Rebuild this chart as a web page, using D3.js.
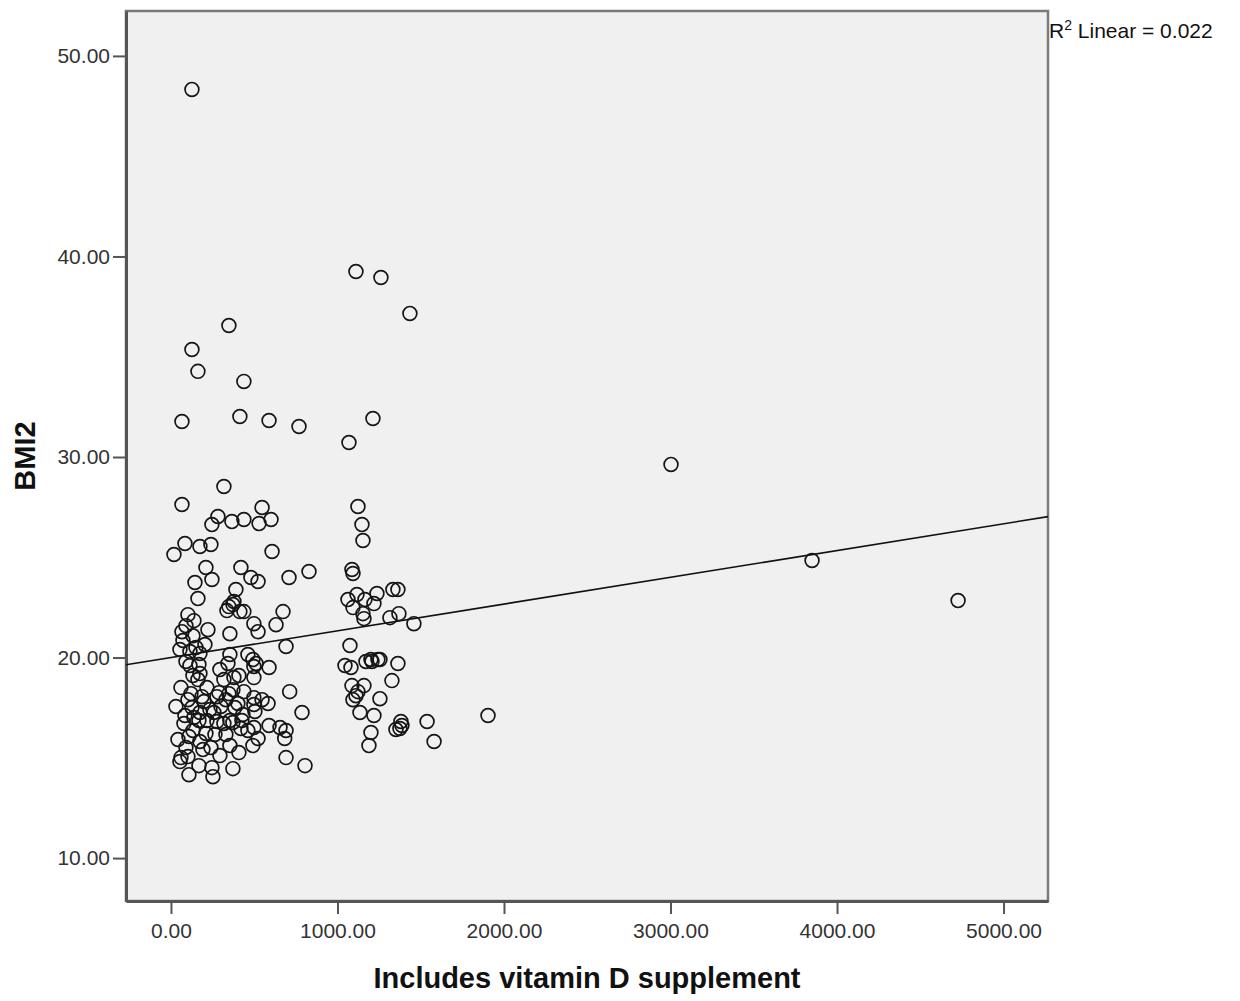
<!DOCTYPE html>
<html>
<head>
<meta charset="utf-8">
<script src="https://cdn.jsdelivr.net/npm/d3@7"></script>
<style>
    body { margin: 0; background: #fff; }
    svg { display: block; font-family: "Liberation Sans", Arial, sans-serif; }
</style>
</head>
<body>
<svg id="chart" width="1240" height="1001"></svg>
<script>
'use strict';

// vitamin D intake (incl. supplement)
var vitaminD = [
    126, 1111, 1261, 1435, 348, 126, 162, 438, 414, 66,
    589, 769, 1213, 1069, 3003, 318, 66, 1123, 547, 366,
    529, 601, 438, 282, 246, 1147, 240, 84, 174, 1153,
    18, 607, 829, 420, 210, 1087, 1093, 709, 246, 480,
    523, 144, 390, 1333, 1363, 1117, 1237, 1165, 1063, 162,
    378, 348, 336, 1219, 372, 1093, 1153, 102, 1369, 673,
    1315, 1159, 1459, 498, 631, 138, 90, 523, 354, 222,
    66, 132, 1075, 691, 72, 204, 150, 174, 462, 492,
    114, 54, 342, 511, 589, 1045, 1081, 1207, 1243, 1255,
    1363, 1171, 114, 168, 294, 174, 132, 318, 378, 498,
    1327, 1159, 60, 216, 713, 438, 348, 1123, 1111, 186,
    276, 1255, 1093, 547, 498, 402, 583, 30, 384, 787,
    1904, 1135, 1219, 126, 174, 258, 504, 84, 138, 168,
    216, 276, 318, 372, 426, 354, 78, 1538, 1381, 1387,
    1375, 589, 655, 691, 1201, 132, 210, 264, 330, 420,
    42, 108, 523, 683, 1580, 174, 354, 492, 1189, 90,
    240, 192, 408, 294, 60, 54, 691, 805, 168, 372,
    246, 108, 252, 462, 498, 414, 438, 162, 198, 300,
    120, 1351, 408, 372, 90, 498, 432, 330, 1087, 1201,
    102, 234, 102, 354, 498, 288,
    3850, 4727
];

var bmi2 = [
    48.33, 39.25, 38.95, 37.16, 36.56, 35.36, 34.27, 33.77, 32.02, 31.77,
    31.82, 31.52, 31.92, 30.72, 29.63, 28.53, 27.63, 27.53, 27.48, 26.78,
    26.68, 26.88, 26.88, 27.03, 26.63, 26.63, 25.64, 25.69, 25.54, 25.84,
    25.14, 25.29, 24.29, 24.49, 24.49, 24.39, 24.19, 23.99, 23.89, 23.99,
    23.79, 23.74, 23.39, 23.39, 23.39, 23.14, 23.19, 22.89, 22.89, 22.94,
    22.79, 22.54, 22.34, 22.69, 22.64, 22.49, 22.19, 22.14, 22.19, 22.29,
    21.99, 21.94, 21.69, 21.69, 21.64, 21.84, 21.59, 21.29, 21.19, 21.39,
    21.29, 21.09, 20.60, 20.55, 20.85, 20.65, 20.50, 20.20, 20.15, 19.90,
    20.30, 20.40, 19.70, 19.70, 19.50, 19.60, 19.50, 19.80, 19.90, 19.90,
    19.70, 19.80, 19.60, 19.65, 19.40, 19.20, 19.10, 18.90, 19.00, 19.00,
    18.85, 18.60, 18.50, 18.50, 18.30, 18.30, 18.20, 18.30, 18.10, 18.05,
    18.05, 17.95, 17.90, 17.90, 17.66, 17.71, 17.71, 17.56, 17.51, 17.26,
    17.11, 17.26, 17.11, 17.51, 17.26, 17.26, 17.31, 17.11, 17.01, 16.86,
    16.86, 16.81, 16.71, 16.76, 16.86, 16.86, 16.71, 16.81, 16.81, 16.61,
    16.46, 16.61, 16.51, 16.36, 16.26, 16.36, 16.21, 16.16, 16.16, 16.46,
    15.91, 16.06, 15.96, 15.96, 15.81, 15.81, 15.61, 15.61, 15.61, 15.51,
    15.51, 15.41, 15.26, 15.11, 15.01, 14.81, 15.01, 14.61, 14.61, 14.46,
    14.51, 14.16, 14.06, 16.36, 16.51, 22.29, 22.29, 18.90, 17.81, 17.56,
    18.20, 16.41, 19.10, 18.40, 19.80, 19.55, 17.16, 17.90, 18.60, 19.90,
    17.90, 17.41, 15.06, 20.15, 18.00, 18.25,
    24.84, 22.84
];

var xTicks = [0, 1000, 2000, 3000, 4000, 5000];
var yTicks = [10, 20, 30, 40, 50];

// fit line as reported by SPSS
var fitIntercept = 20.0;
var fitSlope = 0.001334;
var rSquared = 0.022;

var svg = d3.select('#chart');
var plot = {left: 126, right: 1048, top: 11, bottom: 901};

var x = d3.scaleLinear().domain([-270, 5267]).range([plot.left, plot.right]);
var y = d3.scaleLinear().domain([7.86, 52.24]).range([plot.bottom, plot.top]);

svg.append('rect')
    .attr('x', plot.left)
    .attr('y', plot.top)
    .attr('width', plot.right - plot.left)
    .attr('height', plot.bottom - plot.top)
    .attr('fill', '#f0f0f0')
    .attr('stroke', '#7a7a7a')
    .attr('stroke-width', 2.5);

var fmt = d3.format('.2f');

var xAxis = svg.append('g')
    .attr('transform', 'translate(0,' + plot.bottom + ')')
    .call(d3.axisBottom(x).tickValues(xTicks).tickFormat(fmt).tickSize(13).tickSizeOuter(0).tickPadding(9));

var yAxis = svg.append('g')
    .attr('transform', 'translate(' + plot.left + ',0)')
    .call(d3.axisLeft(y).tickValues(yTicks).tickFormat(fmt).tickSize(13).tickSizeOuter(0).tickPadding(3));

[xAxis, yAxis].forEach(function(ax) {
    ax.select('.domain').attr('stroke', '#555').attr('stroke-width', 3);
    ax.selectAll('.tick line').attr('stroke', '#555').attr('stroke-width', 2);
    ax.selectAll('.tick text')
        .attr('fill', '#333')
        .style('font-size', '21px')
        .style('font-family', '"Liberation Sans", Arial, sans-serif');
});

// regression line, clipped to the plot frame
var x0 = x.domain()[0], x1 = x.domain()[1];
svg.append('line')
    .attr('x1', x(x0))
    .attr('y1', y(fitIntercept + fitSlope * x0))
    .attr('x2', x(x1))
    .attr('y2', y(fitIntercept + fitSlope * x1))
    .attr('stroke', '#111')
    .attr('stroke-width', 1.6);

svg.append('g')
    .selectAll('circle')
    .data(d3.range(vitaminD.length))
    .enter().append('circle')
    .attr('cx', function(i) { return x(vitaminD[i]); })
    .attr('cy', function(i) { return y(bmi2[i]); })
    .attr('r', 6.9)
    .attr('fill', 'none')
    .attr('stroke', '#151515')
    .attr('stroke-width', 1.7);

var r2 = svg.append('text')
    .attr('x', plot.right + 1)
    .attr('y', 38)
    .attr('fill', '#111')
    .style('font-size', '21px');
r2.append('tspan').text('R');
r2.append('tspan').attr('dy', -8).style('font-size', '14px').text('2');
r2.append('tspan').attr('dy', 8).text(' Linear = ' + rSquared.toFixed(3));

svg.append('text')
    .attr('x', (plot.left + plot.right) / 2)
    .attr('y', 988)
    .attr('text-anchor', 'middle')
    .attr('fill', '#111')
    .style('font-size', '29px')
    .style('font-weight', 'bold')
    .text('Includes vitamin D supplement');

svg.append('text')
    .attr('transform', 'translate(35,' + ((plot.top + plot.bottom) / 2) + ') rotate(-90)')
    .attr('text-anchor', 'middle')
    .attr('fill', '#111')
    .style('font-size', '29px')
    .style('font-weight', 'bold')
    .text('BMI2');
</script>
</body>
</html>
